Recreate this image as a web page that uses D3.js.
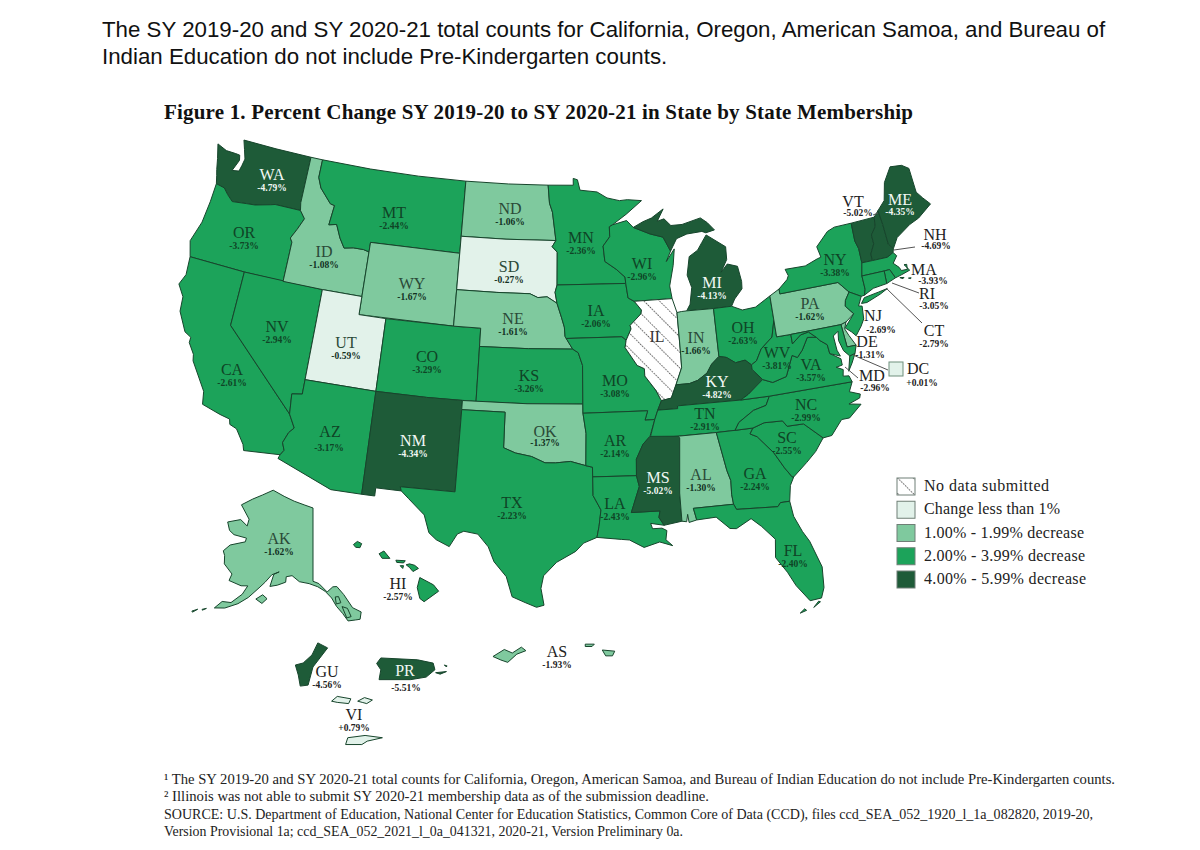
<!DOCTYPE html>
<html>
<head>
<meta charset="utf-8">
<script src="https://cdn.jsdelivr.net/npm/d3@7"></script>
<style>
  html, body { margin: 0; background: #fff; }
  svg { display: block; }
</style>
</head>
<body>
<div id="chart"></div>
<script>
// values
const codes = ['WA','OR','CA','NV','ID','MT','WY','UT','CO','AZ','NM','ND','SD','NE','KS','OK','TX','MN','IA','MO','AR','LA','WI','IL','MI','IN','OH','KY','TN','MS','AL','GA','FL','SC','NC','VA','WV','PA','NY','VT','NH','ME','MA','RI','CT','NJ','DE','MD','DC','AK','HI','GU','PR','AS','VI'];
const changes = [-4.79,-3.73,-2.61,-2.94,-1.08,-2.44,-1.67,-0.59,-3.29,-3.17,-4.34,-1.06,-0.27,-1.61,-3.26,-1.37,-2.23,-2.36,-2.06,-3.08,-2.14,-2.43,-2.96,null,-4.13,-1.66,-2.63,-4.82,-2.91,-5.02,-1.30,-2.24,-2.40,-2.55,-2.99,-3.57,-3.81,-1.62,-3.38,-5.02,-4.69,-4.35,-3.93,-3.05,-2.79,-2.69,-1.31,-2.96,0.01,-1.62,-2.57,-4.56,-5.51,-1.93,0.79];
const legendLabels = ['No data submitted','Change less than 1%','1.00%  - 1.99% decrease','2.00% - 3.99% decrease','4.00% - 5.99% decrease'];
const introLines = ['The SY 2019-20 and SY 2020-21 total counts for California, Oregon, American Samoa, and Bureau of','Indian Education do not include Pre-Kindergarten counts.'];
const figureTitle = 'Figure 1.  Percent Change SY 2019-20 to SY 2020-21 in State by State Membership';
const footnotes = [
  '¹ The SY 2019-20 and SY 2020-21 total counts for California, Oregon, American Samoa, and Bureau of Indian Education do not include Pre-Kindergarten counts.',
  '² Illinois was not able to submit SY 2020-21 membership data as of the submission deadline.',
  'SOURCE: U.S. Department of Education, National Center for Education Statistics, Common Core of Data (CCD), files ccd_SEA_052_1920_l_1a_082820, 2019-20,',
  'Version Provisional 1a; ccd_SEA_052_2021_l_0a_041321, 2020-21, Version Preliminary 0a.'
];

// state outlines, lon/lat
const outlines = {
  WA: [[[-124.72,48.38],[-123.9,48.16],[-123.1,48.15],[-122.75,48.13],[-122.65,47.85],[-123.0,47.2],[-122.45,47.27],[-122.35,47.6],[-122.25,48.0],[-122.5,48.5],[-122.76,49],[-120,49],[-117.03,49],[-117.03,46.42],[-116.92,46],[-118.98,46],[-119.3,45.93],[-120.5,45.7],[-121.2,45.65],[-122.3,45.55],[-122.8,45.85],[-123.2,46.15],[-123.9,46.25],[-124.07,46.7],[-124.2,47],[-124.4,47.6]]],
  OR: [[[-123.9,46.25],[-123.2,46.15],[-122.8,45.85],[-122.3,45.55],[-121.2,45.65],[-120.5,45.7],[-119.3,45.93],[-118.98,46],[-116.92,46],[-116.47,45.6],[-116.85,44.95],[-117.22,44.4],[-117.03,44.2],[-117.03,42],[-120,42],[-124.2,42],[-124.55,42.84],[-124.1,44],[-123.95,45.2]]],
  CA: [[[-124.2,42],[-120,42],[-120,39],[-114.63,35],[-114.14,34.3],[-114.45,34],[-114.72,33.4],[-114.52,33],[-114.72,32.72],[-117.12,32.53],[-117.25,32.85],[-117.9,33.6],[-118.4,33.75],[-118.5,34.03],[-119.2,34.15],[-120.5,34.45],[-120.65,35.15],[-121.9,36.6],[-122,36.95],[-122.5,37.5],[-122.5,37.8],[-123,38],[-123.75,39],[-123.85,39.8],[-124.4,40.4],[-124.1,41]]],
  NV: [[[-120,42],[-114.04,42],[-114.04,36.2],[-114.75,36.1],[-114.63,35],[-120,39]]],
  ID: [[[-117.03,49],[-116.05,49],[-116.05,48],[-115.7,47.45],[-114.7,46.7],[-114.35,46.65],[-114.5,45.55],[-113.9,45.65],[-113.45,44.95],[-113,44.45],[-112.3,44.55],[-111.5,44.55],[-111.05,44.47],[-111.05,42],[-114.04,42],[-117.03,42],[-117.03,44.2],[-117.22,44.4],[-116.85,44.95],[-116.47,45.6],[-116.92,46],[-117.03,46.42]]],
  MT: [[[-116.05,49],[-112,49],[-108,49],[-104.05,49],[-104.05,45.94],[-104.05,45],[-111.05,45],[-111.05,44.47],[-111.5,44.55],[-112.3,44.55],[-113,44.45],[-113.45,44.95],[-113.9,45.65],[-114.5,45.55],[-114.35,46.65],[-114.7,46.7],[-115.7,47.45],[-116.05,48]]],
  WY: [[[-111.05,45],[-104.05,45],[-104.05,43],[-104.05,41],[-111.05,41]]],
  UT: [[[-114.04,42],[-111.05,42],[-111.05,41],[-109.05,41],[-109.05,37],[-114.04,37]]],
  CO: [[[-109.05,41],[-104.05,41],[-102.05,41],[-102.05,37],[-105.5,37],[-109.05,37]]],
  AZ: [[[-114.04,37],[-109.05,37],[-109.05,31.33],[-111.07,31.33],[-114.81,32.5],[-114.72,32.72],[-114.52,33],[-114.72,33.4],[-114.45,34],[-114.14,34.3],[-114.63,35],[-114.75,36.1],[-114.04,36.2]]],
  NM: [[[-109.05,37],[-105.5,37],[-103,37],[-103,36.5],[-103.04,32],[-106.62,32],[-106.53,31.78],[-108.2,31.78],[-108.2,31.33],[-109.05,31.33]]],
  ND: [[[-104.05,49],[-100.5,49],[-97.23,49],[-97.1,48],[-96.85,47.5],[-96.56,45.94],[-100.5,45.94],[-104.05,45.94]]],
  SD: [[[-104.05,45.94],[-100.5,45.94],[-96.56,45.94],[-96.85,45.6],[-96.45,45.3],[-96.45,43.5],[-96.6,43.1],[-96.45,42.5],[-97.2,42.85],[-97.9,42.8],[-98.5,43],[-101,43],[-104.05,43]]],
  NE: [[[-104.05,43],[-101,43],[-98.5,43],[-97.9,42.8],[-97.2,42.85],[-96.45,42.5],[-96.1,41.7],[-95.9,41.2],[-95.85,40.7],[-95.3,40],[-98.5,40],[-102.05,40],[-102.05,41],[-104.05,41]]],
  KS: [[[-102.05,40],[-98.5,40],[-95.3,40],[-94.9,39.8],[-94.6,39.1],[-94.62,37],[-98.5,37],[-102.05,37]]],
  OK: [[[-103,37],[-98.5,37],[-94.62,37],[-94.62,36.5],[-94.43,35.4],[-94.48,33.64],[-95.5,33.88],[-96.5,33.8],[-97.2,33.8],[-98.1,34.13],[-99.2,34.3],[-100,34.56],[-100,36.5],[-103,36.5]]],
  TX: [[[-103,36.5],[-100,36.5],[-100,34.56],[-99.2,34.3],[-98.1,34.13],[-97.2,33.8],[-96.5,33.8],[-95.5,33.88],[-94.48,33.64],[-94.04,33.55],[-94.04,33.02],[-94.04,32],[-93.55,31.2],[-93.7,30.3],[-93.85,29.7],[-94.7,29.4],[-95.2,28.95],[-96.4,28.35],[-97.2,27.6],[-97.35,26.9],[-97.15,25.97],[-97.6,25.85],[-98.3,26.1],[-99.1,26.4],[-99.5,27.5],[-100.3,28.3],[-100.7,29.1],[-101.4,29.77],[-102.3,29.88],[-102.7,29.7],[-103.15,28.98],[-104,29.3],[-104.5,29.65],[-104.9,30.6],[-106,31.4],[-106.53,31.78],[-106.62,32],[-103.04,32]]],
  MN: [[[-97.23,49],[-95.15,49],[-95.15,49.38],[-94.8,49.3],[-94.6,48.72],[-93.2,48.6],[-92.4,48.25],[-91.4,48.07],[-90.75,48.1],[-89.6,48],[-90.9,47.3],[-92.05,46.75],[-92.3,46.65],[-92.3,46.1],[-92.85,45.6],[-92.75,44.75],[-91.9,44.3],[-91.25,43.85],[-91.22,43.5],[-96.45,43.5],[-96.45,45.3],[-96.85,45.6],[-96.56,45.94],[-96.85,47.5],[-97.1,48]]],
  IA: [[[-96.45,43.5],[-91.22,43.5],[-91.1,42.7],[-90.65,42.5],[-90.15,42],[-90.2,41.8],[-91.05,41.2],[-91,41],[-91.4,40.4],[-91.7,40.6],[-95.77,40.58],[-95.85,40.7],[-95.9,41.2],[-96.1,41.7],[-96.45,42.5],[-96.6,43.1]]],
  MO: [[[-95.77,40.58],[-91.7,40.6],[-91.4,40.4],[-91.5,40],[-90.7,39],[-90.2,38.8],[-90.2,38.4],[-89.5,37.6],[-89.15,37],[-89.45,36.5],[-89.7,36],[-90.37,36],[-90.15,36.5],[-94.62,36.5],[-94.62,37],[-94.6,39.1],[-94.9,39.8],[-95.3,40]]],
  AR: [[[-94.62,36.5],[-90.15,36.5],[-90.37,36],[-89.7,36],[-90.1,35.1],[-90.6,34.7],[-91.1,33.9],[-91.15,33],[-94.04,33.02],[-94.04,33.55],[-94.48,33.64],[-94.43,35.4]]],
  LA: [[[-94.04,33.02],[-91.15,33],[-91,32.4],[-91.6,31],[-89.75,31],[-89.85,30.65],[-89.55,30.2],[-90.4,30.35],[-90.3,30.05],[-89.7,30.05],[-89.4,29.9],[-89.5,29.4],[-89.1,29.05],[-89.9,29.3],[-90.9,29.05],[-91.8,29.5],[-92.3,29.55],[-93.85,29.7],[-93.7,30.3],[-93.55,31.2],[-94.04,32]]],
  WI: [[[-92.05,46.75],[-90.9,46.95],[-90.4,46.55],[-89.1,46.13],[-88.1,45.9],[-87.6,45.1],[-88,44.55],[-87.3,45.2],[-87.5,44.3],[-87.9,43.2],[-87.8,42.5],[-90.65,42.5],[-91.1,42.7],[-91.22,43.5],[-91.25,43.85],[-91.9,44.3],[-92.75,44.75],[-92.85,45.6],[-92.3,46.1],[-92.3,46.65]]],
  IL: [[[-90.65,42.5],[-87.8,42.5],[-87.53,41.72],[-87.53,39.35],[-87.55,38.7],[-88.05,37.8],[-88.45,37.1],[-89.15,37],[-89.5,37.6],[-90.2,38.4],[-90.2,38.8],[-90.7,39],[-91.5,40],[-91.4,40.4],[-91,41],[-91.05,41.2],[-90.2,41.8],[-90.15,42],[-90.65,42.5]]],
  MI: [[[-90.4,46.55],[-89.1,46.13],[-88.1,45.9],[-87.6,45.1],[-87.05,45.75],[-86.2,45.95],[-85,46],[-84.7,45.9],[-84,46],[-84.5,46.45],[-85,46.75],[-86.5,46.5],[-87.4,46.5],[-87.9,46.9],[-88.45,46.8],[-87.9,47.45],[-88.9,47],[-89.6,46.83]],
       [[-86.8,41.76],[-84.8,41.73],[-83.45,41.73],[-83.15,42.1],[-82.5,42.6],[-82.45,43],[-82.6,43.85],[-83.35,44.05],[-83.9,43.65],[-83.35,44.3],[-83.3,45],[-84.7,45.78],[-85.1,45.4],[-85.5,45],[-86.2,44.7],[-86.5,43.7],[-86.25,43],[-86.5,42.1]]],
  IN: [[[-87.53,41.72],[-87.2,41.75],[-86.8,41.76],[-84.8,41.73],[-84.82,39.1],[-85.4,38.73],[-85.8,38.27],[-86.5,37.93],[-87.1,37.8],[-88.05,37.8],[-87.55,38.7],[-87.53,39.35]]],
  OH: [[[-84.82,39.1],[-84.3,39],[-83.7,38.65],[-83,38.72],[-82.6,38.42],[-82.2,38.6],[-81.75,39.2],[-80.85,39.75],[-80.52,40.64],[-80.52,41.98],[-81.7,41.5],[-82.7,41.45],[-83.45,41.73],[-84.8,41.73]]],
  KY: [[[-89.45,36.5],[-88.07,36.5],[-88.07,36.65],[-83.68,36.6],[-83.1,36.85],[-81.97,37.54],[-82.6,38.17],[-82.6,38.42],[-83,38.72],[-83.7,38.65],[-84.3,39],[-84.82,39.1],[-85.4,38.73],[-85.8,38.27],[-86.5,37.93],[-87.1,37.8],[-88.05,37.8],[-88.45,37.1],[-89.15,37]]],
  TN: [[[-90.1,35],[-88.2,35],[-85.6,35],[-84.32,35],[-84,35.4],[-82.9,35.95],[-82,36.12],[-81.68,36.59],[-83.68,36.6],[-88.07,36.65],[-88.07,36.5],[-89.45,36.5],[-89.7,36]]],
  MS: [[[-90.1,35.1],[-88.2,35],[-88.1,34.9],[-88.4,31.9],[-88.4,30.35],[-89.55,30.2],[-89.85,30.65],[-89.75,31],[-91.6,31],[-91,32.4],[-91.15,33],[-91.1,33.9],[-90.6,34.7]]],
  AL: [[[-88.2,35],[-85.6,35],[-85.18,32.87],[-85,32.3],[-85.05,31.55],[-85,31],[-87.6,31],[-87.45,30.35],[-87.95,30.25],[-88,30.7],[-88.1,30.3],[-88.4,30.35],[-88.4,31.9],[-88.1,34.9]]],
  GA: [[[-85.6,35],[-84.32,35],[-83.1,35],[-83.35,34.7],[-82.9,34.5],[-81.95,33.5],[-81.4,32.6],[-81,32.05],[-80.9,32.03],[-81.2,31.6],[-81.4,30.75],[-82,30.75],[-82.2,30.55],[-84.85,30.7],[-85,31],[-85.05,31.55],[-85,32.3],[-85.18,32.87]]],
  FL: [[[-87.6,31],[-85,31],[-84.85,30.7],[-82.2,30.55],[-82,30.75],[-81.4,30.75],[-81.3,29.9],[-80.9,29],[-80.55,28.4],[-80.05,26.9],[-80.15,25.75],[-80.4,25.2],[-81.1,25.15],[-81.8,26.1],[-82.2,26.9],[-82.8,27.8],[-82.65,28.8],[-83.4,29.6],[-84,30.1],[-85,29.65],[-85.4,29.7],[-86.2,30.4],[-87.45,30.35]],
       [[-81.8,24.55],[-81.4,24.65],[-81.5,24.75]],[[-80.95,24.75],[-80.5,25],[-80.6,25.05]]],
  SC: [[[-83.1,35],[-82.3,35.2],[-81.05,35.15],[-80.8,34.82],[-79.68,34.8],[-78.55,33.86],[-79.2,33.2],[-79.9,32.7],[-80.9,32.03],[-81,32.05],[-81.4,32.6],[-81.95,33.5],[-82.9,34.5],[-83.35,34.7]]],
  NC: [[[-84.32,35],[-83.1,35],[-82.3,35.2],[-81.05,35.15],[-80.8,34.82],[-79.68,34.8],[-78.55,33.86],[-77.95,33.9],[-77.1,34.65],[-76.55,34.65],[-75.6,35.25],[-76.4,35.4],[-75.6,35.6],[-75.5,35.8],[-76.2,36.05],[-75.87,36.55],[-81.68,36.59],[-82,36.12],[-82.9,35.95],[-84,35.4]]],
  VA: [[[-83.68,36.6],[-81.68,36.59],[-75.87,36.55],[-76,36.9],[-76.4,36.95],[-76.3,37.3],[-76.75,37.5],[-76.3,37.55],[-76.3,37.9],[-77,38.3],[-77.05,38.8],[-77.5,39.1],[-77.72,39.32],[-78.35,39.4],[-78.87,38.77],[-79.3,38.42],[-79.65,38.58],[-80.3,37.5],[-81.3,37.3],[-81.97,37.54],[-83.1,36.85]],
       [[-75.95,37.15],[-75.6,37.55],[-75.25,38.03],[-75.65,37.95]]],
  WV: [[[-81.97,37.54],[-81.3,37.3],[-80.3,37.5],[-79.65,38.58],[-79.3,38.42],[-78.87,38.77],[-78.35,39.4],[-77.72,39.32],[-78.2,39.68],[-78.8,39.6],[-79.48,39.2],[-79.48,39.72],[-80.52,39.72],[-80.52,40.64],[-80.85,39.75],[-81.75,39.2],[-82.2,38.6],[-82.6,38.42],[-82.6,38.17]]],
  PA: [[[-80.52,41.98],[-79.76,42.27],[-79.76,42],[-75.35,42],[-74.7,41.36],[-75.1,40.95],[-75.2,40.65],[-74.72,40.15],[-75.4,39.8],[-75.79,39.72],[-79.48,39.72],[-80.52,39.72]]],
  NY: [[[-79.76,42.27],[-79.05,42.7],[-78.9,42.9],[-79.05,43.27],[-77.5,43.25],[-76.5,43.5],[-76.2,43.55],[-76.35,44.15],[-75.3,44.85],[-74.7,45],[-73.35,45],[-73.4,44],[-73.25,43.55],[-73.27,42.75],[-73.5,42.05],[-73.5,41.3],[-73.65,41],[-73.9,40.98],[-74.7,41.36],[-75.35,42],[-79.76,42]],
       [[-74,40.6],[-73.6,40.58],[-72.5,40.85],[-71.9,41.05],[-72.6,40.98],[-73.7,40.87]]],
  NJ: [[[-74.7,41.36],[-73.9,40.98],[-74.25,40.5],[-74,40.45],[-74.1,39.75],[-74.4,39.4],[-74.9,38.95],[-75.15,39.2],[-75.55,39.5],[-74.72,40.15],[-75.2,40.65],[-75.1,40.95]]],
  DE: [[[-75.79,39.72],[-75.4,39.8],[-75.6,39.45],[-75.4,39.05],[-75.05,38.45],[-75.7,38.46]]],
  MD: [[[-79.48,39.72],[-75.79,39.72],[-75.7,38.46],[-75.05,38.45],[-75.25,38.03],[-75.65,37.95],[-76,38.3],[-76.2,38.9],[-76.1,39.4],[-76.5,39.2],[-76.45,38.4],[-76.3,38.05],[-77,38.3],[-77.05,38.8],[-77.5,39.1],[-77.72,39.32],[-78.2,39.68],[-78.8,39.6],[-79.48,39.2]]],
  VT: [[[-73.35,45],[-71.5,45.01],[-71.6,44.5],[-72.05,44.1],[-72.05,43.6],[-72.45,43.1],[-72.46,42.73],[-73.27,42.75],[-73.25,43.55],[-73.4,44]]],
  NH: [[[-71.5,45.01],[-71.08,45.3],[-71,44.5],[-70.98,43.38],[-70.7,43.07],[-70.8,42.87],[-71.3,42.7],[-72.46,42.73],[-72.45,43.1],[-72.05,43.6],[-72.05,44.1],[-71.6,44.5]]],
  ME: [[[-71.08,45.3],[-70.4,45.75],[-70,46.7],[-69.22,47.45],[-68.3,47.35],[-67.8,47.07],[-67.8,45.7],[-67.45,45.3],[-67,44.85],[-68.2,44.3],[-69,44.1],[-70.2,43.6],[-70.7,43.07],[-70.98,43.38],[-71,44.5]]],
  MA: [[[-73.5,42.05],[-73.27,42.75],[-72.46,42.73],[-71.3,42.7],[-70.8,42.87],[-70.6,42.65],[-71,42.3],[-70.65,42],[-70.55,41.8],[-70.1,41.78],[-70.05,42.05],[-70.25,42.07],[-69.95,41.7],[-70.6,41.58],[-71.12,41.5],[-71.38,42.02],[-71.8,42.02]],
       [[-70.8,41.45],[-70.5,41.4],[-70.6,41.35]],[[-70.2,41.3],[-70,41.28],[-70.05,41.24]]],
  RI: [[[-71.8,42.02],[-71.38,42.02],[-71.12,41.5],[-71.85,41.32]]],
  CT: [[[-73.5,42.05],[-71.8,42.02],[-71.85,41.32],[-72.9,41.25],[-73.65,41],[-73.5,41.3]]],
  AK: [[[-141,69.65],[-141,60.3],[-139.5,60],[-137.5,58.9],[-136,59.5],[-135,59.5],[-133.5,58.4],[-131.8,56.6],[-130,55.9],[-130.5,55],[-131.5,55],[-133.2,55],[-134.2,56],[-135.5,57],[-136.5,58.1],[-138,59],[-139.8,59.6],[-142,60],[-144.5,60.2],[-146.5,60.9],[-148,60.7],[-148,60],[-150,59.5],[-151.8,59.2],[-151.3,60.8],[-150,61.2],[-151.8,60.7],[-153.2,59.6],[-154.2,58.9],[-156.4,57.3],[-158.4,56.2],[-161,55.2],[-163.2,54.8],[-162,55.9],[-160,56.1],[-158,57.5],[-157.2,58.7],[-158.8,58.5],[-162,58.7],[-161.8,59.6],[-164.5,60.5],[-165.2,61.5],[-166,62],[-164.8,63],[-161,64],[-161,64.5],[-164.8,64.4],[-166.5,64.7],[-168,65.6],[-164.5,66.5],[-161.9,66],[-162,66.9],[-166,68.3],[-163,69.5],[-160,70.4],[-156.6,71.35],[-152,70.85],[-148,70.4],[-144,70]],
       [[-154.6,57.3],[-153.2,58],[-152,57.6],[-153,56.9]],
       [[-135.6,58.2],[-134.8,58.2],[-134.4,57.4],[-135.5,57.3]],[[-134.2,56.9],[-133,56.6],[-132.4,55.5],[-133.4,55.4]],
       [[-164.8,54.4],[-165.6,54.1],[-165.5,54]],[[-166.5,53.9],[-167.5,53.4],[-167.3,53.3]]],
  HI: [[[-159.78,22.05],[-159.55,22.22],[-159.3,22.1],[-159.4,21.88],[-159.65,21.9]],
       [[-158.28,21.55],[-158,21.7],[-157.65,21.3],[-158.1,21.3]],
       [[-157.3,21.2],[-156.75,21.17],[-156.85,21.05],[-157.25,21.08]],
       [[-157.05,20.9],[-156.85,20.9],[-156.9,20.75]],
       [[-156.7,20.95],[-156.5,21],[-156.2,20.92],[-155.98,20.75],[-156.3,20.58],[-156.5,20.8]],
       [[-155.9,20.25],[-155.6,20.1],[-155.1,19.85],[-154.8,19.5],[-155.65,18.92],[-155.9,19.1],[-156.05,19.7]]],
  GU: [[[144.86,13.65],[144.96,13.6],[144.81,13.41],[144.76,13.23],[144.68,13.22],[144.66,13.33],[144.63,13.43],[144.71,13.45],[144.8,13.53]]],
  PR: [[[-67.27,18.37],[-67.15,18.52],[-66.1,18.47],[-65.65,18.38],[-65.6,18.2],[-65.85,18],[-66.3,17.93],[-67.2,17.93],[-67.15,18.2]],
       [[-65.58,18.12],[-65.27,18.15],[-65.45,18.08]],[[-65.33,18.33],[-65.25,18.3],[-65.28,18.28]]],
  AS: [[[-170.85,-14.33],[-170.75,-14.27],[-170.68,-14.3],[-170.6,-14.25],[-170.56,-14.28],[-170.64,-14.31],[-170.72,-14.38],[-170.78,-14.36]]],
  AS2: [[[-169.68,-14.17],[-169.6,-14.17],[-169.62,-14.19],[-169.68,-14.19]],[[-169.53,-14.22],[-169.42,-14.23],[-169.44,-14.27],[-169.5,-14.27]]],
  VI: [[[-65.03,18.34],[-64.98,18.38],[-64.92,18.37],[-64.86,18.36],[-64.88,18.32],[-64.98,18.33]],[[-64.8,18.34],[-64.74,18.37],[-64.67,18.35],[-64.72,18.32],[-64.76,18.33]]],
  VI2: [[[-64.9,17.7],[-64.88,17.76],[-64.72,17.78],[-64.56,17.76],[-64.7,17.73],[-64.75,17.7]]]
};

// figure layout: label anchors [x, abbreviation baseline]
const labelAt = {WA:[272,180],OR:[244,238],CA:[232,375],NV:[277,332],ID:[324,257],MT:[394,218],WY:[412,289],UT:[346,348],CO:[427,362],AZ:[330,437],NM:[413,446],ND:[510,214],SD:[509,272],NE:[513,324],KS:[529,381],OK:[545,437],TX:[512,508],MN:[581,243],IA:[596,316],MO:[615,386],AR:[615,446],LA:[615,509],WI:[642,269],IL:[657,342],MI:[712,288],IN:[696,343],OH:[743,333],KY:[717,387],TN:[705,419],MS:[658,483],AL:[701,480],GA:[755,479],FL:[793,556],SC:[787,443],NC:[806,410],VA:[811,370],WV:[777,358],PA:[810,309],NY:[835,265],VT:[853,207],NH:[935,240],ME:[900,205],MA:[924,275],RI:[927,299],CT:[934,336],NJ:[873,321],DE:[867,347],MD:[872,381],DC:[918,374],AK:[279,544],HI:[398,589],GU:[327,677],PR:[405,676],AS:[557,657],VI:[354,720]};
// [x, baseline] of the percent where it does not sit straight under the abbreviation
const pctAt = {VT:[858,216],NH:[936,249],ME:[900,215],MA:[933,284],RI:[934,309],CT:[934,347],NJ:[881,333],DE:[870,358],MD:[875,391],DC:[922,386],PR:[406,691],AZ:[329,451],OK:[545,446]};
const leaders = [[[894,250],[915,247]],[[892,283],[919,293]],[[886,288],[922,323]],[[853,355],[888,370]],[[845,367],[858,378]],[[873,215],[878,213]]];

const width = 1200, height = 850;
const svg = d3.select('#chart').append('svg').attr('width', width).attr('height', height);
const SERIF = '"Liberation Serif", serif';

const lower48 = d3.geoAlbers().rotate([96, 0]).center([0, 38.7]).parallels([29.5, 45.5]).scale(1042).translate([563, 373]);
const projections = {
  AK: d3.geoAlbers().rotate([141, 0]).center([0, 63]).parallels([55, 65]).scale(450).translate([313, 560]),
  HI: d3.geoMercator().center([-157, 20.5]).scale(980).translate([401, 573]),
  GU: d3.geoMercator().center([144.79, 13.44]).scale(5600).translate([311, 664]),
  PR: d3.geoMercator().center([-66.4, 18.22]).scale(2000).translate([407, 669]),
  AS: d3.geoMercator().center([-170.7, -14.3]).scale(6500).translate([510, 653]),
  AS2: d3.geoMercator().center([-169.55, -14.22]).scale(6500).translate([600, 650]),
  VI: d3.geoMercator().center([-64.85, 18.35]).scale(6500).translate([352, 700]),
  VI2: d3.geoMercator().center([-64.73, 17.74]).scale(6200).translate([364, 740])
};
const ownerOf = {AS2: 'AS', VI2: 'VI'};

const valueByCode = new Map(codes.map((c, i) => [c, changes[i]]));
const classColor = d3.scaleThreshold().domain([1, 2, 4]).range(['#e2f2ea', '#7fc99e', '#1ca35a', '#1e5b38']);
const fillFor = code => {
  const v = valueByCode.get(code);
  return v === null ? 'url(#nodata)' : classColor(Math.abs(v));
};
const closed = d3.line().curve(d3.curveLinearClosed);

// hatch for the state with no data
const defs = svg.append('defs');
const hatch = defs.append('pattern').attr('id', 'nodata').attr('patternUnits', 'userSpaceOnUse')
  .attr('width', 11).attr('height', 11).attr('patternTransform', 'rotate(-45)');
hatch.append('rect').attr('width', 11).attr('height', 11).attr('fill', '#fff');
hatch.append('line').attr('x1', 0).attr('x2', 0).attr('y1', 0).attr('y2', 11)
  .attr('stroke', '#555').attr('stroke-width', 2).attr('stroke-dasharray', '1.4 1.35');

svg.append('g').selectAll('text').data(introLines).enter().append('text')
  .attr('x', 102).attr('y', (d, i) => 37 + i * 27)
  .attr('font-family', '"Liberation Sans", Arial, sans-serif').attr('font-size', 22.3).attr('fill', '#111')
  .text(d => d);

svg.append('text').attr('x', 164).attr('y', 119)
  .attr('font-family', SERIF).attr('font-weight', 700).attr('font-size', 21).attr('fill', '#111')
  .attr('textLength', 749).attr('lengthAdjust', 'spacing')
  .text(figureTitle);

// states
const shapes = Object.keys(outlines).map(code => ({
  code, owner: ownerOf[code] || code, proj: projections[code] || lower48, rings: outlines[code]
}));
svg.append('g').selectAll('path').data(shapes).enter().append('path')
  .attr('d', d => d.rings.map(r => closed(r.map(p => d.proj(p)))).join(''))
  .attr('fill', d => fillFor(d.owner))
  .attr('stroke', '#17452c').attr('stroke-width', 1).attr('stroke-linejoin', 'round');

// leader lines and the DC box
svg.append('g').selectAll('line').data(leaders).enter().append('line')
  .attr('x1', d => d[0][0]).attr('y1', d => d[0][1]).attr('x2', d => d[1][0]).attr('y2', d => d[1][1])
  .attr('stroke', '#555').attr('stroke-width', 1);
svg.append('rect').attr('x', 889).attr('y', 362).attr('width', 14).attr('height', 14)
  .attr('fill', fillFor('DC')).attr('stroke', '#6f8f7d').attr('stroke-width', 1);

// labels
const outside = new Set(['VT','NH','MA','RI','CT','NJ','DE','MD','DC','HI','VI','AS','GU']);
const labelColor = code => {
  if (outside.has(code)) return '#222';
  const v = valueByCode.get(code);
  if (v === null) return '#333';
  return Math.abs(v) >= 4 ? '#f1f8f4' : (Math.abs(v) < 2 ? '#2b4a38' : '#0f4426');
};
const pctText = v => (v > 0 ? '+' : '') + v.toFixed(2) + '%';
const labels = svg.append('g').attr('font-family', SERIF);
labels.selectAll('text.abbr').data(codes).enter().append('text').attr('class', 'abbr')
  .attr('x', d => labelAt[d][0]).attr('y', d => labelAt[d][1]).attr('text-anchor', 'middle')
  .attr('font-size', 16).attr('fill', labelColor).text(d => d);
labels.selectAll('text.pct').data(codes.filter(c => valueByCode.get(c) !== null)).enter().append('text').attr('class', 'pct')
  .attr('x', d => (pctAt[d] || labelAt[d])[0]).attr('y', d => pctAt[d] ? pctAt[d][1] : labelAt[d][1] + 11)
  .attr('text-anchor', 'middle').attr('font-size', 9.5).attr('font-weight', 700)
  .attr('fill', d => d === 'PR' ? '#222' : (labelColor(d) === '#2b4a38' ? '#12301f' : labelColor(d)))
  .text(d => pctText(valueByCode.get(d)));

// legend
const legendY = d3.scalePoint().domain(legendLabels).range([478, 571]);
const legendFill = ['url(#nodata)', classColor(0), classColor(1), classColor(2), classColor(4)];
const legendWidths = [125, 136, 160, 161, 162];
const legend = svg.append('g').selectAll('g').data(legendLabels).enter().append('g')
  .attr('transform', d => `translate(897,${legendY(d)})`);
legend.append('rect').attr('width', 18).attr('height', 17)
  .attr('fill', (d, i) => legendFill[i]).attr('stroke', '#6f7f76').attr('stroke-width', 1);
legend.append('text').attr('x', 27).attr('y', 13).attr('font-family', SERIF).attr('font-size', 16).attr('fill', '#222')
  .attr('textLength', (d, i) => legendWidths[i]).attr('lengthAdjust', 'spacing')
  .text(d => d);

// footnotes
const footWidths = [951, 545, 929, 519];
svg.append('g').selectAll('text').data(footnotes).enter().append('text')
  .attr('x', 164).attr('y', (d, i) => 784 + i * 17.4)
  .attr('font-family', SERIF).attr('font-size', 14.5).attr('fill', '#222')
  .attr('textLength', (d, i) => footWidths[i]).attr('lengthAdjust', 'spacingAndGlyphs')
  .text(d => d);
</script>
</body>
</html>
